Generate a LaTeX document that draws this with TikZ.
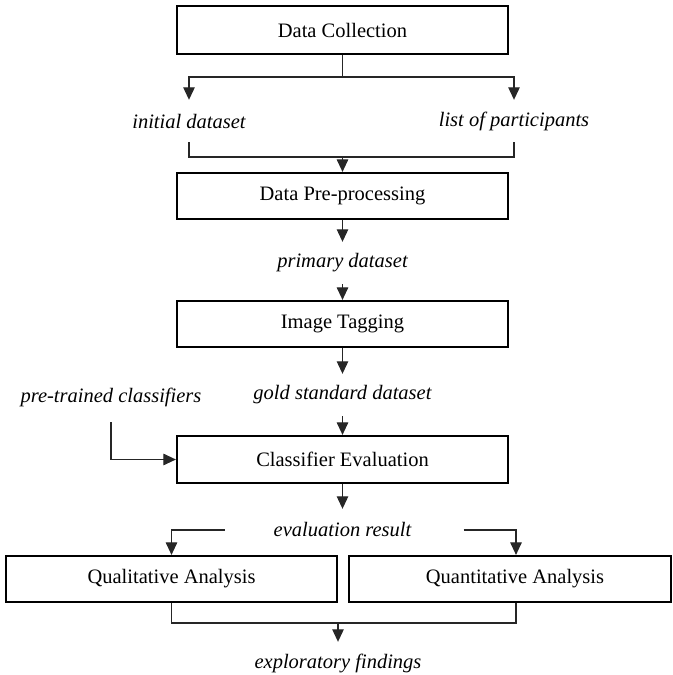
\documentclass[tikz,border=0pt]{standalone}
\usepackage{fontspec}
\setmainfont{Liberation Serif}
\usetikzlibrary{arrows.meta}
\begin{document}
\begin{tikzpicture}[x=1bp,y=-1bp,
  box/.style={draw, line width=2.2bp, minimum width=331bp, minimum height=46bp, inner sep=0pt, font=\fontsize{20.5bp}{24bp}\selectfont},
  lbl/.style={inner sep=0pt, minimum height=42bp, font=\fontsize{20.5bp}{24bp}\selectfont\itshape},
  conn/.style={line width=1.1bp, draw=black!85},
  arr/.style={conn, -{Triangle[width=11.5bp,length=12.5bp]}}]
\useasboundingbox (0,0) rectangle (673,675);
\node[box, minimum height=48bp] (dc) at (342.5,30) {Data Collection};
\node[lbl] (init) at (189,121) {initial dataset};
\node[lbl] (list) at (514,121) {list of participants};
\node[box] (dp) at (342.5,196) {Data Pre-processing};
\node[lbl] (prim) at (342.5,263) {primary dataset};
\node[box] (it) at (342.5,324) {Image Tagging};
\node[lbl] (gold) at (342.5,395) {gold standard dataset};
\node[lbl] (pre) at (111,397) {pre-trained classifiers};
\node[box, minimum height=47bp] (ce) at (342.5,459.5) {Classifier Evaluation};
\node[lbl] (eval) at (342.5,530) {evaluation result};
\node[box] (ql) at (171.5,579) {Qualitative Analysis};
\node[box, minimum width=322bp] (qn) at (510,579) {\hspace*{10bp}Quantitative Analysis};
\node[lbl] (expl) at (338,663) {exploratory findings};
\coordinate (split) at (342.5,77);
\coordinate (merge) at (342.5,157);
\coordinate (join) at (338,623);
\draw[conn] (dc.south) -- (split);
\draw[arr] (split) -| (init.north);
\draw[arr] (split) -| (list.north);
\draw[conn] (init.south) |- (merge);
\draw[conn] (list.south) |- (merge);
\draw[arr] (merge) -- (dp.north);
\draw[arr] (dp.south) -- (prim.north);
\draw[arr] (prim.south) -- (it.north);
\draw[arr] (it.south) -- (gold.north);
\draw[arr] (gold.south) -- (ce.north);
\draw[arr] ([yshift=-4bp]pre.south) |- (ce.west);
\draw[arr] (ce.south) -- (eval.north);
\draw[arr] ([xshift=-49bp]eval.west) -| (ql.north);
\draw[arr] ([xshift=52bp]eval.east) -| ([xshift=6bp]qn.north);
\draw[conn] (ql.south) |- (join);
\draw[conn] ([xshift=6bp]qn.south) |- (join);
\draw[arr] (join) -- (expl.north);
\end{tikzpicture}
\end{document}
